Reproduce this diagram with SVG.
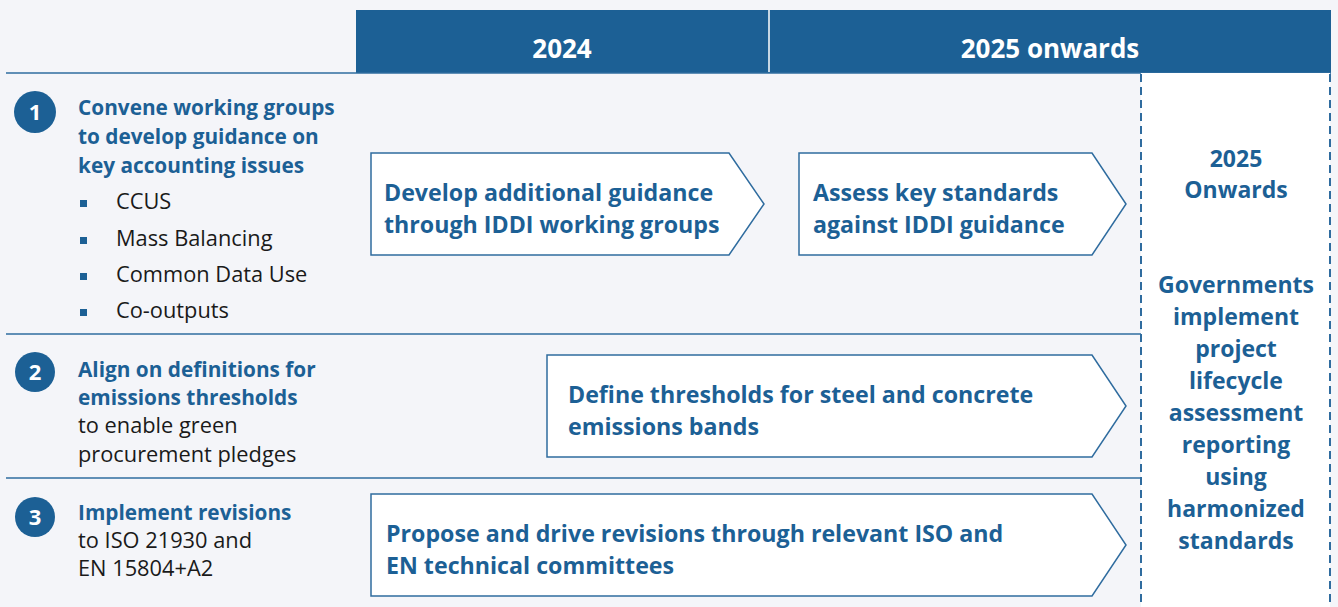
<svg xmlns="http://www.w3.org/2000/svg" width="1338" height="607" viewBox="0 0 1338 607">
<style>
.bg{fill:#f4f5f9}
.hdr{fill:#1c6095}
.hdrt{fill:#ffffff;font-family:"Open Sans","Liberation Sans",sans-serif;font-weight:700;font-size:26px;text-anchor:middle}
.rule{stroke:#2f6c9f;stroke-width:1.5;fill:none}
.dash{stroke:#2f6c9f;stroke-width:2;stroke-dasharray:8 5;fill:none}
.circ{fill:#1c6095}
.num{fill:#ffffff;font-family:"Open Sans","Liberation Sans",sans-serif;font-weight:700;font-size:22px;text-anchor:middle}
.bt{fill:#1c6095;font-family:"Open Sans","Liberation Sans",sans-serif;font-weight:700;font-size:20.8px}
.rt{fill:#1a1a1a;font-family:"Open Sans","Liberation Sans",sans-serif;font-weight:400;font-size:21.8px}
.bul{fill:#1c6095}
.arrow{fill:#ffffff;stroke:#2f6c9f;stroke-width:1.5}
.at{fill:#1c6095;font-family:"Open Sans","Liberation Sans",sans-serif;font-weight:700;font-size:23.2px}
.ct{fill:#1c6095;font-family:"Open Sans","Liberation Sans",sans-serif;font-weight:700;font-size:23px;text-anchor:middle}
</style>
<rect class="bg" x="0" y="0" width="1338" height="607"/>
<g id="header">
<rect class="hdr" x="356" y="10" width="975" height="63"/>
<line x1="769" y1="10" x2="769" y2="72" stroke="#ffffff" stroke-width="1.5"/>
<text class="hdrt" x="562" y="58">2024</text>
<text class="hdrt" x="1050" y="58">2025 onwards</text>
</g>
<g id="grid">
<line class="rule" x1="6" y1="73" x2="1331" y2="73"/>
<line class="rule" x1="6" y1="334" x2="1141" y2="334"/>
<line class="rule" x1="6" y1="478" x2="1141" y2="478"/>
</g>
<g id="col2025">
<rect x="1141" y="73" width="189" height="534" fill="#ffffff"/>
<line class="dash" x1="1141" y1="74" x2="1141" y2="607"/>
<line class="dash" x1="1330" y1="74" x2="1330" y2="607"/>
<text class="ct" x="1236" y="167">2025</text>
<text class="ct" x="1236" y="198">Onwards</text>
<text class="ct" x="1236" y="293">Governments</text>
<text class="ct" x="1236" y="325">implement</text>
<text class="ct" x="1236" y="357">project</text>
<text class="ct" x="1236" y="389">lifecycle</text>
<text class="ct" x="1236" y="421">assessment</text>
<text class="ct" x="1236" y="453">reporting</text>
<text class="ct" x="1236" y="485">using</text>
<text class="ct" x="1236" y="517">harmonized</text>
<text class="ct" x="1236" y="549">standards</text>
</g>
<g id="row1">
<circle class="circ" cx="35" cy="112" r="21"/>
<text class="num" x="35" y="120">1</text>
<text class="bt" x="78" y="115">Convene working groups</text>
<text class="bt" x="78" y="144">to develop guidance on</text>
<text class="bt" x="78" y="173">key accounting issues</text>
<rect class="bul" x="80" y="200" width="7" height="7"/>
<rect class="bul" x="80" y="237" width="7" height="7"/>
<rect class="bul" x="80" y="273" width="7" height="7"/>
<rect class="bul" x="80" y="309" width="7" height="7"/>
<text class="rt" x="116" y="209">CCUS</text>
<text class="rt" x="116" y="246">Mass Balancing</text>
<text class="rt" x="116" y="282">Common Data Use</text>
<text class="rt" x="116" y="318">Co-outputs</text>
</g>
<g id="row2">
<circle class="circ" cx="35" cy="372" r="20"/>
<text class="num" x="35" y="380">2</text>
<text class="bt" x="78" y="377">Align on definitions for</text>
<text class="bt" x="78" y="405">emissions thresholds</text>
<text class="rt" x="78" y="433">to enable green</text>
<text class="rt" x="78" y="462">procurement pledges</text>
</g>
<g id="row3">
<circle class="circ" cx="35" cy="517" r="20"/>
<text class="num" x="35" y="525">3</text>
<text class="bt" x="78" y="520">Implement revisions</text>
<text class="rt" x="78" y="548">to ISO 21930 and</text>
<text class="rt" x="78" y="576">EN 15804+A2</text>
</g>
<g id="step-develop">
<polygon class="arrow" points="371,153 729,153 764,204 729,255 371,255"/>
<text class="at" x="384" y="201">Develop additional guidance</text>
<text class="at" x="384" y="233">through IDDI working groups</text>
</g>
<g id="step-assess">
<polygon class="arrow" points="799,153 1092,153 1126,204 1092,255 799,255"/>
<text class="at" x="813" y="201">Assess key standards</text>
<text class="at" x="813" y="233">against IDDI guidance</text>
</g>
<g id="step-define">
<polygon class="arrow" points="547,355 1092,355 1126,406 1092,457 547,457"/>
<text class="at" x="568" y="403">Define thresholds for steel and concrete</text>
<text class="at" x="568" y="435">emissions bands</text>
</g>
<g id="step-propose">
<polygon class="arrow" points="371,494 1092,494 1126,545 1092,596 371,596"/>
<text class="at" x="386" y="542">Propose and drive revisions through relevant ISO and</text>
<text class="at" x="386" y="574">EN technical committees</text>
</g>
</svg>
